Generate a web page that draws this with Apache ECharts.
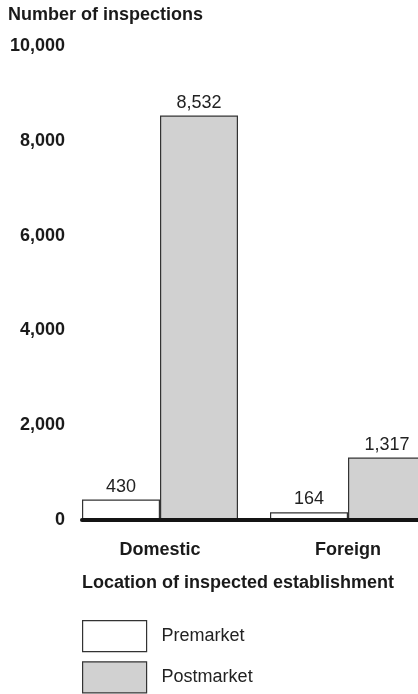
<!DOCTYPE html>
<html>
<head>
<meta charset="utf-8">
<script src="https://cdn.jsdelivr.net/npm/echarts@6/dist/echarts.min.js"></script>
<style>
html,body{margin:0;padding:0;background:#fff;}
#c{width:418px;height:694px;}
</style>
</head>
<body>
<div id="c"></div>
<script>
const categories = ['Domestic', 'Foreign'];
const premarket = [430, 164];
const postmarket = [8532, 1317];
const seriesNames = ['Premarket', 'Postmarket'];
const yTicks = [0, 2000, 4000, 6000, 8000, 10000];
const yTitle = 'Number of inspections';
const xTitle = 'Location of inspected establishment';

const FONT = '"Liberation Sans", Arial, Helvetica, sans-serif';
const fmt = v => Number(v).toLocaleString('en-US');

const chart = echarts.init(document.getElementById('c'), null, {renderer: 'canvas'});
chart.setOption({
  animation: false,
  backgroundColor: '#ffffff',
  textStyle: {fontFamily: FONT},
  title: [
    {text: yTitle, left: 8, top: 6, padding: 0,
     textStyle: {fontFamily: FONT, fontSize: 18, fontWeight: 'bold', color: '#1a1a1a'}},
    {text: xTitle, left: 82, top: 574, padding: 0,
     textStyle: {fontFamily: FONT, fontSize: 18, fontWeight: 'bold', color: '#1a1a1a'}}
  ],
  grid: [
    {left: 66, width: 376, top: 46, bottom: 174, containLabel: false, outerBoundsMode: 'none'},
    {left: 82, right: 0, top: 46, bottom: 174, containLabel: false, outerBoundsMode: 'none'}
  ],
  xAxis: [
    {type: 'category', gridIndex: 0, data: categories,
     axisLine: {show: false}, axisTick: {show: false},
     axisLabel: {margin: 21, fontFamily: FONT, fontSize: 18, fontWeight: 'bold', color: '#1a1a1a'}},
    {type: 'value', gridIndex: 1, min: 0, max: 1, z: 5,
     axisLine: {show: true, onZero: false, lineStyle: {color: '#141414', width: 4}},
     axisTick: {show: false}, axisLabel: {show: false}, splitLine: {show: false}}
  ],
  yAxis: [
    {type: 'value', gridIndex: 0, min: yTicks[0], max: yTicks[yTicks.length - 1], interval: 2000,
     axisLine: {show: false}, axisTick: {show: false}, splitLine: {show: false},
     axisLabel: {margin: 1, formatter: fmt, fontFamily: FONT, fontSize: 18, fontWeight: 'bold', color: '#1a1a1a'}},
    {type: 'value', gridIndex: 1, min: 0, max: 1, show: false}
  ],
  legend: {
    orient: 'vertical', left: 82, top: 620, padding: 0,
    itemWidth: 64, itemHeight: 31, itemGap: 9,
    icon: 'rect',
    itemStyle: {borderColor: '#333', borderWidth: 1.2},
    textStyle: {fontFamily: FONT, fontSize: 18, color: '#222', padding: [0, 0, 0, 10]},
    data: seriesNames
  },
  series: [
    {name: seriesNames[0], type: 'bar', xAxisIndex: 0, yAxisIndex: 0, data: premarket,
     barWidth: 78, barGap: '0%',
     itemStyle: {color: '#ffffff', borderColor: '#333', borderWidth: 1.2},
     label: {show: true, position: 'top', distance: 4, formatter: p => fmt(p.value),
             fontFamily: FONT, fontSize: 18, color: '#222'}},
    {name: seriesNames[1], type: 'bar', xAxisIndex: 0, yAxisIndex: 0, data: postmarket,
     barWidth: 78, barGap: '0%',
     itemStyle: {color: '#d1d1d1', borderColor: '#333', borderWidth: 1.2},
     label: {show: true, position: 'top', distance: 4, formatter: p => fmt(p.value),
             fontFamily: FONT, fontSize: 18, color: '#222'}}
  ]
});
</script>
</body>
</html>
